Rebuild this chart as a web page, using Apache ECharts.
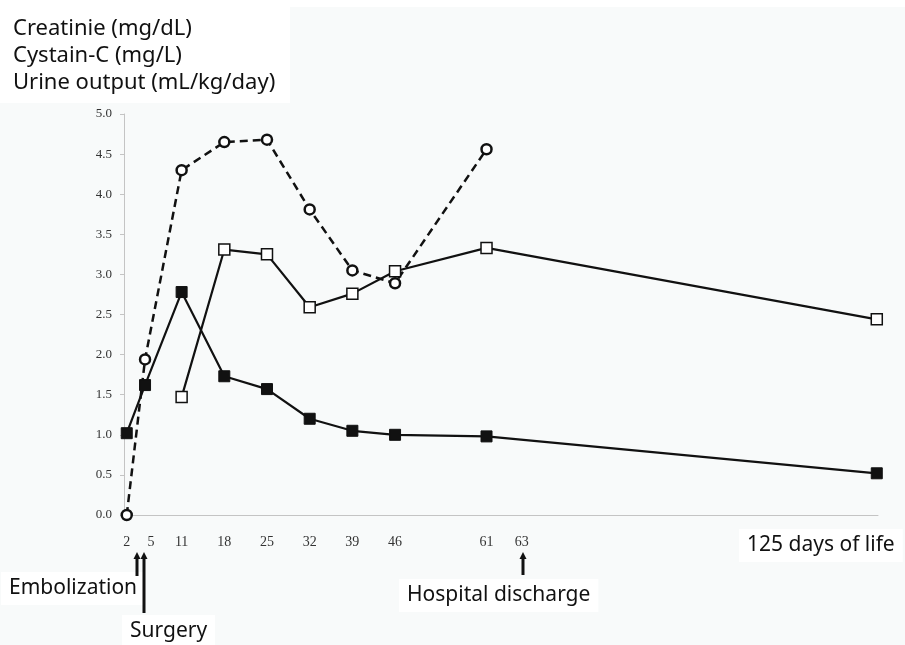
<!DOCTYPE html>
<html lang="en">
<head>
    <meta charset="UTF-8">
    <script src="https://cdn.jsdelivr.net/npm/echarts@6/dist/echarts.min.js"></script>
    <style>
        html, body { margin: 0; padding: 0; background: #fff; }
        #chart { width: 905px; height: 645px; }
    </style>
    <title>Renal course</title>
</head>
<body>
    <div id="chart"></div>
    <script type="text/javascript">
        // days of life for each series
        var creatDays = [2, 5, 11, 18, 25, 32, 39, 46, 61, 125];
        var creatValues = [1.02, 1.62, 2.78, 1.73, 1.57, 1.20, 1.05, 1.00, 0.98, 0.52];

        var cysDays = [11, 18, 25, 32, 39, 46, 61, 125];
        var cysValues = [1.47, 3.31, 3.25, 2.59, 2.76, 3.04, 3.33, 2.44];

        var urineDays = [2, 5, 11, 18, 25, 32, 39, 46, 61];
        var urineValues = [0.0, 1.94, 4.30, 4.65, 4.68, 3.81, 3.05, 2.89, 4.56];

        var dayTicks = [2, 5, 11, 18, 25, 32, 39, 46, 61, 63];

        function pairs(days, vals) {
            return days.map(function (d, i) { return [d, vals[i]]; });
        }

        var sansFont = '"Noto Sans", sans-serif';
        var serifFont = '"Liberation Serif", "Times New Roman", serif';

        // small up-pointing arrow under the axis
        function arrow(x, yTop, yBottom) {
            return {
                type: 'group', z: 10,
                children: [
                    { type: 'line', shape: { x1: x, y1: yTop + 5, x2: x, y2: yBottom }, style: { stroke: '#111', lineWidth: 3 } },
                    { type: 'polygon', shape: { points: [[x - 3.5, yTop + 7], [x + 3.5, yTop + 7], [x, yTop]] }, style: { fill: '#111' } }
                ]
            };
        }

        function boxText(x, y, txt) {
            return {
                type: 'text', left: x, top: y,
                style: {
                    text: txt, font: '21px ' + sansFont, fill: '#111',
                    backgroundColor: '#fff', padding: [6, 8, 6, 8]
                }
            };
        }

        var chart = echarts.init(document.getElementById('chart'));
        var option = {
            backgroundColor: '#f8fafa',
            animation: false,
            grid: { left: 124, right: 27, top: 114, bottom: 130 },
            xAxis: {
                type: 'value', min: 1.55, max: 125.2,
                axisLine: { lineStyle: { color: '#c4c4c4', width: 1 } },
                axisTick: { show: false },
                splitLine: { show: false },
                axisLabel: {
                    customValues: dayTicks, margin: 20,
                    color: '#333', fontFamily: serifFont, fontSize: 14,
                    formatter: function (v) {
                        if (v === 63) return '{far|63}';
                        if (v === 5) return '{near|5}';
                        return String(v);
                    },
                    rich: {
                        far: { padding: [0, 0, 0, 46], fontFamily: serifFont, fontSize: 14, color: '#333' },
                        near: { padding: [0, 0, 0, 12], fontFamily: serifFont, fontSize: 14, color: '#333' }
                    }
                }
            },
            yAxis: {
                type: 'value', min: 0, max: 5, interval: 0.5,
                axisLine: { show: true, lineStyle: { color: '#c4c4c4', width: 1 } },
                axisTick: { show: true, length: 4, lineStyle: { color: '#c4c4c4' } },
                splitLine: { show: false },
                axisLabel: {
                    margin: 12, color: '#333', fontFamily: serifFont, fontSize: 13,
                    formatter: function (v) { return v.toFixed(1); }
                }
            },
            series: [
                {
                    name: 'Urine output', type: 'line', data: pairs(urineDays, urineValues),
                    symbol: 'circle', symbolSize: 10,
                    lineStyle: { color: '#111', width: 2.5, type: [8, 5] },
                    itemStyle: { color: '#fff', borderColor: '#111', borderWidth: 2.5 },
                    z: 2
                },
                {
                    name: 'Cystatin-C', type: 'line', data: pairs(cysDays, cysValues),
                    symbol: 'rect', symbolSize: 11,
                    lineStyle: { color: '#111', width: 2.2 },
                    itemStyle: { color: '#fff', borderColor: '#111', borderWidth: 1.5 },
                    z: 3
                },
                {
                    name: 'Creatinine', type: 'line', data: pairs(creatDays, creatValues),
                    symbol: 'rect', symbolSize: 11,
                    lineStyle: { color: '#111', width: 2.2 },
                    itemStyle: { color: '#111', borderColor: '#111', borderWidth: 1 },
                    z: 4
                }
            ],
            graphic: [
                { type: 'rect', shape: { x: 0, y: 0, width: 905, height: 7 }, style: { fill: '#fff' } },
                { type: 'rect', shape: { x: 0, y: 0, width: 290, height: 103 }, style: { fill: '#fff' } },
                {
                    type: 'text', left: 13, top: 15,
                    style: {
                        text: 'Creatinie (mg/dL)\nCystain-C (mg/L)\nUrine output (mL/kg/day)',
                        font: '22px ' + sansFont, lineHeight: 27, fill: '#111'
                    }
                },
                boxText(1, 572, 'Embolization'),
                boxText(122, 615, 'Surgery'),
                boxText(399, 579, 'Hospital discharge'),
                boxText(739, 529, '125 days of life'),
                arrow(137, 552, 576),
                arrow(144, 552, 613),
                arrow(523, 552, 575)
            ]
        };
        chart.setOption(option);
    </script>
</body>
</html>
